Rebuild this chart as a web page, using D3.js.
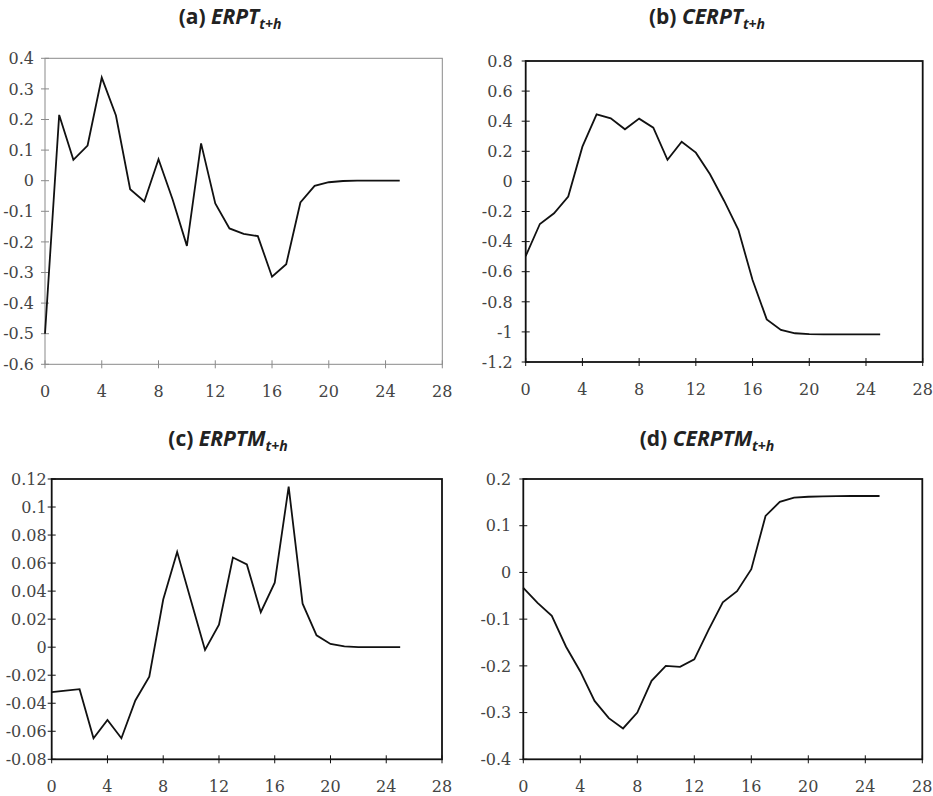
<!DOCTYPE html>
<html lang="en">
<head>
    <meta charset="UTF-8">
    <script src="https://d3js.org/d3.v7.min.js"></script>
    <style>
        body { margin: 0; background: #fff; }
    </style>
</head>
<body>
    <svg id="chart"></svg>
    <script>
        // horizons 0..25
        const horizons = d3.range(0, 26);

        const erpt = [-0.5, 0.215, 0.068, 0.115, 0.337, 0.213, -0.028, -0.068, 0.07, -0.062,
            -0.213, 0.122, -0.074, -0.156, -0.174, -0.181, -0.314, -0.273, -0.071, -0.017,
            -0.005, -0.001, 0, 0, 0, 0];

        const cerpt = [-0.496, -0.283, -0.212, -0.101, 0.231, 0.446, 0.419, 0.346, 0.417, 0.357,
            0.143, 0.264, 0.191, 0.047, -0.13, -0.322, -0.655, -0.917, -0.987, -1.009,
            -1.015, -1.016, -1.016, -1.016, -1.016, -1.016];

        const erptm = [-0.032, -0.031, -0.030, -0.065, -0.052, -0.065, -0.038, -0.021, 0.034, 0.068,
            0.033, -0.002, 0.016, 0.064, 0.059, 0.025, 0.046, 0.1145, 0.031, 0.0085,
            0.0023, 0.0006, 0.0001, 0, 0, 0];

        const cerptm = [-0.033, -0.065, -0.093, -0.159, -0.212, -0.275, -0.312, -0.334, -0.300, -0.232,
            -0.200, -0.202, -0.186, -0.123, -0.064, -0.040, 0.007, 0.121, 0.151, 0.160,
            0.162, 0.163, 0.1635, 0.1636, 0.1636, 0.1636];

        const xTicks = [0, 4, 8, 12, 16, 20, 24, 28];
        const yTicksA = [0.4, 0.3, 0.2, 0.1, 0, -0.1, -0.2, -0.3, -0.4, -0.5, -0.6];
        const yTicksB = [0.8, 0.6, 0.4, 0.2, 0, -0.2, -0.4, -0.6, -0.8, -1, -1.2];
        const yTicksC = [0.12, 0.1, 0.08, 0.06, 0.04, 0.02, 0, -0.02, -0.04, -0.06, -0.08];
        const yTicksD = [0.2, 0.1, 0, -0.1, -0.2, -0.3, -0.4];

        const width = 933, height = 796;
        const svg = d3.select("#chart").attr("width", width).attr("height", height);

        const serif = "'DejaVu Serif', 'Liberation Serif', serif";
        const sans = "'Open Sans', 'Noto Sans', sans-serif";
        const fmt = d => String(+d.toFixed(3));

        const panels = [
            { label: "(a)", name: "ERPT", values: erpt, ticks: yTicksA,
              box: [45, 442.3, 58.3, 364.3], titleX: 230, titleY: 24, frame: "#8a8a8a", fw: 1, labelGap: 11 },
            { label: "(b)", name: "CERPT", values: cerpt, ticks: yTicksB,
              box: [525.7, 922.7, 61, 362], titleX: 707, titleY: 24, frame: "#111", fw: 1.8, labelGap: 13 },
            { label: "(c)", name: "ERPTM", values: erptm, ticks: yTicksC,
              box: [51.7, 442, 479, 759.3], titleX: 228, titleY: 446, frame: "#111", fw: 1.8, labelGap: 5 },
            { label: "(d)", name: "CERPTM", values: cerptm, ticks: yTicksD,
              box: [523.3, 922.3, 479, 759.3], titleX: 707, titleY: 446, frame: "#111", fw: 1.8, labelGap: 12 }
        ];

        panels.forEach(p => {
            const [x0, x1, y0, y1] = p.box;
            const x = d3.scaleLinear().domain([0, 28]).range([x0, x1]);
            const y = d3.scaleLinear().domain(d3.extent(p.ticks)).range([y1, y0]);
            const g = svg.append("g");

            // frame
            g.append("rect")
                .attr("x", x0).attr("y", y0)
                .attr("width", x1 - x0).attr("height", y1 - y0)
                .attr("fill", "none")
                .attr("stroke", p.frame)
                .attr("stroke-width", p.fw);

            // y axis ticks (crossing)
            g.selectAll(".yt").data(p.ticks).enter().append("line")
                .attr("x1", x0 - 4).attr("x2", x0 + 4)
                .attr("y1", d => y(d)).attr("y2", d => y(d))
                .attr("stroke", p.frame).attr("stroke-width", 1);

            g.selectAll(".yl").data(p.ticks).enter().append("text")
                .style("font-family", serif)
                .style("font-size", "16px")
                .attr("fill", "#444")
                .attr("x", x0 - p.labelGap)
                .attr("y", d => y(d))
                .attr("dy", "0.36em")
                .attr("text-anchor", "end")
                .text(fmt);

            // x axis ticks (crossing)
            g.selectAll(".xl-tick").data(xTicks).enter().append("line")
                .attr("x1", d => x(d)).attr("x2", d => x(d))
                .attr("y1", y1 - 4).attr("y2", y1 + 4)
                .attr("stroke", p.frame).attr("stroke-width", 1);

            g.selectAll(".xl").data(xTicks).enter().append("text")
                .style("font-family", serif)
                .style("font-size", "16px")
                .attr("fill", "#444")
                .attr("x", d => x(d))
                .attr("y", y1 + 33)
                .attr("text-anchor", "middle")
                .text(d => d);

            // series line
            const line = d3.line()
                .x((d, i) => x(horizons[i]))
                .y(d => y(d));

            g.append("path")
                .datum(p.values)
                .attr("fill", "none")
                .attr("stroke", "#111")
                .attr("stroke-width", 1.8)
                .attr("d", line);

            // title
            const t = g.append("text")
                .style("font-family", sans)
                .style("font-weight", "bold")
                .attr("fill", "#222")
                .attr("x", p.titleX)
                .attr("y", p.titleY)
                .attr("text-anchor", "middle");
            t.append("tspan").style("font-size", "21px").text(p.label + " ");
            t.append("tspan").style("font-size", "21px").style("font-style", "italic").text(p.name);
            t.append("tspan").style("font-size", "14px").style("font-style", "italic").attr("dy", 5).text("t+h");
        });
    </script>
</body>
</html>
